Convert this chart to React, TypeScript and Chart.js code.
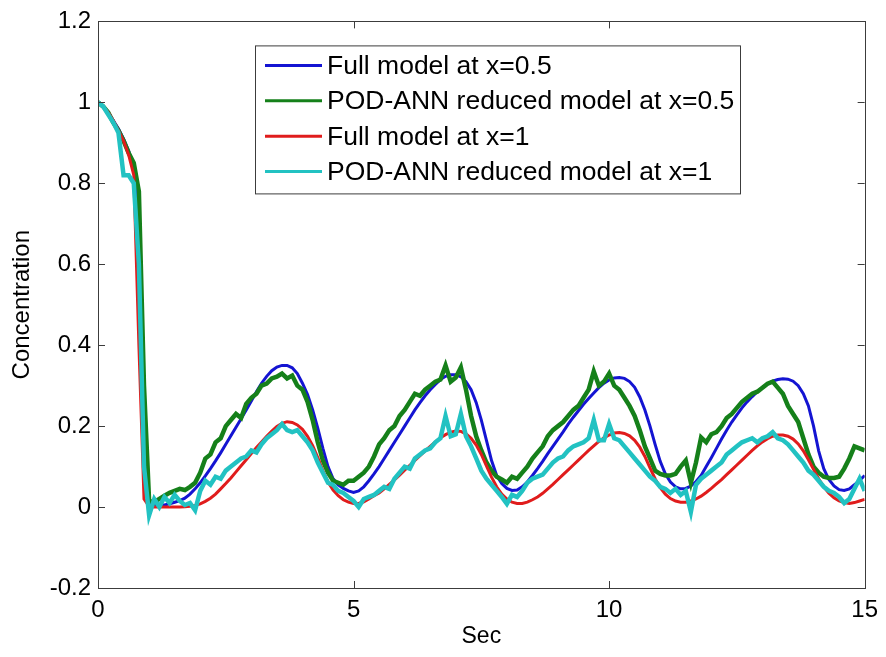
import { useEffect, useRef } from "react";
import { Chart, registerables } from "chart.js";

Chart.register(...registerables);

// Sample times (s), 0.0 to 15.0 every 0.1 s
const timeSec: number[] = Array.from({ length: 151 }, (_, i) => i / 10);

const fullModelHalf: number[] = [
  1.0, 0.99, 0.975, 0.955, 0.935, 0.91, 0.88, 0.84, 0.74, 0.2,
  0.01, 0.005, 0.005, 0.005, 0.008, 0.012, 0.016, 0.022, 0.032, 0.045,
  0.06, 0.077, 0.095, 0.114, 0.134, 0.155, 0.176, 0.197, 0.218, 0.24,
  0.262, 0.285, 0.306, 0.323, 0.337, 0.346, 0.35, 0.35, 0.344, 0.33,
  0.306, 0.278, 0.24, 0.195, 0.145, 0.1, 0.07, 0.055, 0.046, 0.04,
  0.036, 0.04, 0.05, 0.065, 0.082, 0.1, 0.12, 0.14, 0.16, 0.18,
  0.2, 0.22, 0.24, 0.258, 0.275, 0.29, 0.303, 0.315, 0.323, 0.327,
  0.327, 0.322, 0.31, 0.29, 0.258, 0.215, 0.165, 0.115, 0.078, 0.058,
  0.046, 0.041, 0.042, 0.05, 0.062, 0.078, 0.095, 0.113, 0.132, 0.15,
  0.168, 0.186, 0.205, 0.222, 0.238, 0.254, 0.268, 0.282, 0.295, 0.306,
  0.314, 0.319, 0.32, 0.318, 0.31, 0.296, 0.272, 0.24, 0.2, 0.155,
  0.113, 0.082, 0.062, 0.05, 0.045, 0.046, 0.052, 0.063, 0.078, 0.1,
  0.122, 0.145, 0.168, 0.19, 0.21, 0.228, 0.245, 0.26, 0.273, 0.285,
  0.295, 0.304, 0.311, 0.315, 0.317, 0.316, 0.311, 0.3, 0.28, 0.25,
  0.2, 0.139, 0.095, 0.068, 0.052, 0.043, 0.041, 0.045, 0.055, 0.066,
  0.078,
];

const reducedModelHalf: number[] = [
  1.0, 0.99, 0.975, 0.95, 0.93, 0.905, 0.875, 0.85, 0.78, 0.3,
  0.015, 0.012, 0.02, 0.028, 0.035, 0.04, 0.045, 0.042, 0.05, 0.06,
  0.085, 0.12, 0.13, 0.16, 0.17, 0.2, 0.215, 0.23, 0.22, 0.255,
  0.27, 0.28, 0.3, 0.305, 0.318, 0.322, 0.33, 0.318, 0.325, 0.3,
  0.29, 0.26, 0.215, 0.16, 0.115, 0.085, 0.065, 0.06, 0.055, 0.065,
  0.065, 0.075, 0.085, 0.1, 0.125, 0.155, 0.17, 0.19, 0.2, 0.225,
  0.24, 0.26, 0.28, 0.275, 0.29, 0.3, 0.31, 0.315, 0.35, 0.31,
  0.32, 0.345, 0.29, 0.225, 0.175, 0.14, 0.11, 0.09, 0.075, 0.068,
  0.06, 0.075, 0.07, 0.085, 0.1, 0.12, 0.135, 0.15, 0.175, 0.19,
  0.2, 0.21, 0.225, 0.24, 0.25, 0.27, 0.29, 0.335, 0.3, 0.31,
  0.33, 0.3, 0.29, 0.27, 0.25, 0.225, 0.19, 0.15, 0.12, 0.09,
  0.082, 0.078, 0.078, 0.082, 0.1, 0.115, 0.06, 0.11, 0.172, 0.16,
  0.18, 0.185, 0.2, 0.22, 0.23, 0.245, 0.26, 0.27, 0.28, 0.285,
  0.295, 0.305, 0.31, 0.295, 0.28, 0.25, 0.23, 0.21, 0.17, 0.13,
  0.1, 0.085, 0.075, 0.072, 0.072, 0.075, 0.095, 0.12, 0.15, 0.145,
  0.14,
];

const fullModelOne: number[] = [
  1.0, 0.99, 0.975, 0.955, 0.93, 0.905, 0.87, 0.82, 0.4, 0.02,
  0.002, 0.0, 0.0, 0.0, 0.0, 0.0, 0.0, 0.001, 0.002, 0.004,
  0.008, 0.014, 0.022, 0.032, 0.045, 0.058, 0.072, 0.087, 0.102, 0.117,
  0.132, 0.147, 0.161, 0.175, 0.188, 0.199, 0.207, 0.211, 0.209, 0.203,
  0.192, 0.175, 0.152, 0.122, 0.09, 0.062, 0.042, 0.028, 0.018, 0.012,
  0.009, 0.009, 0.013, 0.02, 0.028, 0.035, 0.045, 0.056, 0.067, 0.079,
  0.091, 0.103, 0.115, 0.127, 0.139, 0.15, 0.161, 0.171, 0.179, 0.185,
  0.188, 0.187, 0.181, 0.17, 0.153, 0.13, 0.102, 0.074, 0.05, 0.032,
  0.02, 0.012, 0.009, 0.009, 0.012, 0.018, 0.025, 0.034, 0.045, 0.056,
  0.068, 0.08, 0.092, 0.104, 0.116, 0.128, 0.14, 0.151, 0.162, 0.171,
  0.178, 0.183, 0.184, 0.182, 0.176, 0.165, 0.148, 0.125, 0.097, 0.07,
  0.048, 0.032, 0.021, 0.015, 0.012, 0.012, 0.015, 0.02, 0.027, 0.036,
  0.046, 0.057, 0.068, 0.08, 0.092, 0.104, 0.116, 0.128, 0.14, 0.151,
  0.161, 0.169, 0.175, 0.178, 0.178, 0.175, 0.168, 0.156, 0.139, 0.117,
  0.093, 0.07, 0.05, 0.034, 0.023, 0.015, 0.011, 0.009, 0.011, 0.015,
  0.019,
];

const reducedModelOne: number[] = [
  1.0, 0.99, 0.97, 0.95, 0.925, 0.82, 0.82, 0.8, 0.6, 0.1,
  -0.02, 0.02, 0.0, 0.025, 0.01, 0.03, 0.015, 0.005, 0.01, -0.008,
  0.04, 0.065, 0.055, 0.075, 0.07, 0.09, 0.1, 0.11, 0.12, 0.125,
  0.14, 0.135, 0.155, 0.17, 0.18, 0.19, 0.205, 0.19, 0.185, 0.19,
  0.175, 0.16, 0.14, 0.11, 0.085, 0.06, 0.055, 0.04, 0.035, 0.025,
  0.015, 0.0, 0.02, 0.025, 0.03, 0.04, 0.05, 0.045, 0.07, 0.085,
  0.1, 0.095, 0.12, 0.13, 0.14, 0.145, 0.16, 0.17, 0.225, 0.175,
  0.18, 0.23, 0.175, 0.15, 0.12, 0.09, 0.07, 0.055, 0.04, 0.025,
  0.008, 0.03, 0.025, 0.04, 0.06, 0.07, 0.075, 0.08, 0.095, 0.11,
  0.12, 0.125, 0.14, 0.15, 0.155, 0.16, 0.17, 0.215, 0.165, 0.165,
  0.205, 0.17, 0.165, 0.15, 0.135, 0.12, 0.105, 0.09, 0.075, 0.065,
  0.05, 0.045, 0.035, 0.045, 0.03, 0.04, -0.012, 0.055, 0.07, 0.08,
  0.09, 0.1, 0.11, 0.13, 0.14, 0.15, 0.16, 0.165, 0.17, 0.16,
  0.17, 0.175, 0.185, 0.17, 0.165, 0.155, 0.14, 0.125, 0.11, 0.09,
  0.08, 0.065, 0.05, 0.04, 0.035, 0.025, 0.01, 0.02, 0.045, 0.07,
  0.04,
];

const seriesLabels: string[] = [
  "Full model at x=0.5",
  "POD-ANN reduced model at x=0.5",
  "Full model at x=1",
  "POD-ANN reduced model at x=1",
];

const xTicks: number[] = [0, 5, 10, 15];
const yTicks: number[] = [-0.2, 0, 0.2, 0.4, 0.6, 0.8, 1, 1.2];
const yTickLabels: string[] = ["-0.2", "0", "0.2", "0.4", "0.6", "0.8", "1", "1.2"];

const FONT = "'Liberation Sans', Arial, Helvetica, sans-serif";
const FRAME = "#3c3c3c";
const COLORS = ["#1414d2", "#15801a", "#e01c1c", "#22c2c2"];

const pts = (vals: number[]) => vals.map((v, i) => ({ x: timeSec[i], y: v }));

// Box frame with inward tick marks on all four sides
const framePlugin = {
  id: "frame",
  afterDatasetsDraw(chart: any) {
    const { ctx, chartArea: a, scales } = chart;
    const len = 7;
    ctx.save();
    ctx.strokeStyle = FRAME;
    ctx.lineWidth = 1;
    ctx.strokeRect(Math.round(a.left) + 0.5, Math.round(a.top) + 0.5, Math.round(a.right - a.left), Math.round(a.bottom - a.top));
    ctx.beginPath();
    xTicks.forEach((v) => {
      const px = Math.round(scales.x.getPixelForValue(v)) + 0.5;
      ctx.moveTo(px, a.bottom);
      ctx.lineTo(px, a.bottom - len);
      ctx.moveTo(px, a.top);
      ctx.lineTo(px, a.top + len);
    });
    yTicks.forEach((v) => {
      const py = Math.round(scales.y.getPixelForValue(v)) + 0.5;
      ctx.moveTo(a.left, py);
      ctx.lineTo(a.left + len, py);
      ctx.moveTo(a.right, py);
      ctx.lineTo(a.right - len, py);
    });
    ctx.stroke();
    ctx.restore();
  },
};

// Boxed legend inside the plot area
const boxLegendPlugin = {
  id: "boxLegend",
  afterDraw(chart: any) {
    const { ctx, chartArea: a } = chart;
    const left = a.left + 157;
    const top = a.top + 24;
    const width = 485;
    const height = 148;
    ctx.save();
    ctx.fillStyle = "#ffffff";
    ctx.fillRect(left, top, width, height);
    ctx.strokeStyle = FRAME;
    ctx.lineWidth = 1;
    ctx.strokeRect(left + 0.5, top + 0.5, width, height);
    ctx.font = `26.5px ${FONT}`;
    ctx.textBaseline = "middle";
    ctx.textAlign = "left";
    chart.data.datasets.forEach((ds: any, i: number) => {
      const cy = top + 20 + i * 35.4;
      ctx.strokeStyle = ds.borderColor;
      ctx.lineWidth = 3;
      ctx.beginPath();
      ctx.moveTo(left + 10, cy);
      ctx.lineTo(left + 67, cy);
      ctx.stroke();
      ctx.fillStyle = "#000000";
      ctx.fillText(ds.label, left + 72, cy + 1);
    });
    ctx.restore();
  },
};

export default function App() {
  const canvasRef = useRef<HTMLCanvasElement | null>(null);

  useEffect(() => {
    const canvas = canvasRef.current;
    if (!canvas) return;
    const datasetStyle = (i: number, width: number, order: number) => ({
      label: seriesLabels[i],
      borderColor: COLORS[i],
      backgroundColor: COLORS[i],
      borderWidth: width,
      borderJoinStyle: "miter" as const,
      pointRadius: 0,
      tension: 0,
      fill: false,
      order,
    });
    const chart = new Chart(canvas, {
      type: "line",
      data: {
        datasets: [
          { ...datasetStyle(0, 3, 3), data: pts(fullModelHalf) },
          { ...datasetStyle(1, 4.5, 2), data: pts(reducedModelHalf) },
          { ...datasetStyle(2, 3, 1), data: pts(fullModelOne) },
          { ...datasetStyle(3, 4.5, 0), data: pts(reducedModelOne) },
        ],
      },
      options: {
        responsive: false,
        animation: false,
        devicePixelRatio: 1,
        layout: { padding: { left: 0, top: 18, right: 20, bottom: 0 } },
        plugins: { legend: { display: false }, tooltip: { enabled: false } },
        scales: {
          x: {
            type: "linear",
            min: 0,
            max: 15,
            grid: { display: false, drawTicks: false },
            border: { display: false },
            afterBuildTicks: (scale: any) => {
              scale.ticks = xTicks.map((v) => ({ value: v }));
            },
            afterFit: (scale: any) => {
              scale.height = 69;
            },
            ticks: {
              color: "#000000",
              font: { family: FONT, size: 24 },
              padding: 8,
              maxRotation: 0,
              callback: (v: any) => String(v),
            },
            title: {
              display: true,
              text: "Sec",
              color: "#000000",
              font: { family: FONT, size: 23 },
              padding: { top: 0, bottom: 7 },
            },
          },
          y: {
            type: "linear",
            min: -0.2,
            max: 1.2,
            grid: { display: false, drawTicks: false },
            border: { display: false },
            afterBuildTicks: (scale: any) => {
              scale.ticks = yTicks.map((v) => ({ value: v }));
            },
            afterFit: (scale: any) => {
              scale.width = 98;
            },
            ticks: {
              color: "#000000",
              font: { family: FONT, size: 24 },
              padding: 7,
              callback: (v: any) => {
                const idx = yTicks.findIndex((t) => Math.abs(t - Number(v)) < 1e-9);
                return idx >= 0 ? yTickLabels[idx] : "";
              },
            },
            title: {
              display: true,
              text: "Concentration",
              color: "#000000",
              font: { family: FONT, size: 24 },
              padding: { top: 8, bottom: 0 },
            },
          },
        },
      },
      plugins: [framePlugin, boxLegendPlugin],
    });
    return () => chart.destroy();
  }, []);

  return (
    <div style={{ position: "fixed", left: 0, top: 0, width: 886, height: 657, background: "#ffffff" }}>
      <canvas ref={canvasRef} width={886} height={657} style={{ display: "block", width: 886, height: 657 }} />
    </div>
  );
}
